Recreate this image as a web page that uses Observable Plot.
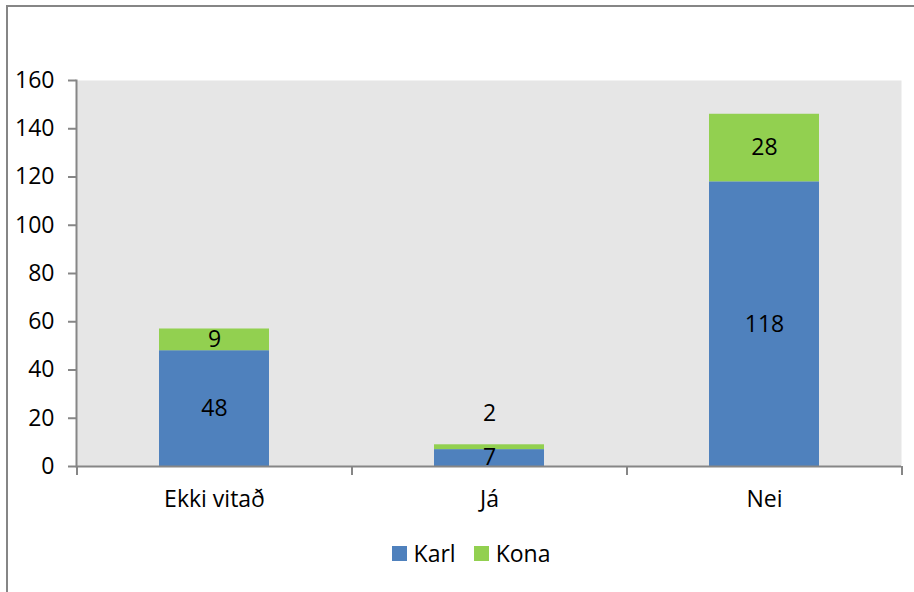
<!DOCTYPE html>
<html>
<head>
<meta charset="utf-8">
<script src="https://cdn.jsdelivr.net/npm/d3@7"></script>
<script src="https://cdn.jsdelivr.net/npm/@observablehq/plot@0.6"></script>
<style>
  html, body { margin: 0; padding: 0; background: #fff; }
  #wrap { position: relative; width: 914px; height: 592px; overflow: hidden; font-family: "Open Sans", sans-serif; }
  #border { position: absolute; left: 6px; top: 5px; width: 1000px; height: 1000px; border: 2px solid #868686; box-sizing: border-box; }
  #chart { position: absolute; left: 0; top: 0; }
  #legend { position: absolute; left: 0; width: 914px; top: 537px; display: flex; justify-content: center; align-items: center; font-size: 23px; color: #000; padding-left: 28px; box-sizing: border-box; }
  .item { display: flex; align-items: center; margin: 0 9px; }
  .sw { width: 15px; height: 15px; margin-right: 7px; }
</style>
</head>
<body>
<div id="wrap">
  <div id="border"></div>
  <div id="chart"></div>
  <div id="legend"></div>
</div>
<script>
const categories = ["Ekki vitað", "Já", "Nei"];
const series = ["Karl", "Kona"];
const karl = [48, 7, 118];
const kona = [9, 2, 28];
const yTicks = [0, 20, 40, 60, 80, 100, 120, 140, 160];
const colors = ["#4f81bd", "#92d050"];

const data = [];
series.forEach((s, si) => {
  const vals = si === 0 ? karl : kona;
  categories.forEach((c, ci) => data.push({category: c, series: s, value: vals[ci]}));
});

const W = 914, H = 592, mL = 76, mR = 13, mT = 80, mB = 126;
const step = (W - mL - mR) / categories.length;
const axisColor = "#868686";
const font = "Open Sans, sans-serif";
const fs = 23;

const big = data.filter(d => !(d.series === "Kona" && d.value < 5));
const small = data.filter(d => d.series === "Kona" && d.value < 5);

const chart = Plot.plot({
  width: W, height: H,
  marginLeft: mL, marginRight: mR, marginTop: mT, marginBottom: mB,
  style: {fontFamily: font, fontSize: fs + "px", color: "#000", background: "transparent"},
  x: {domain: categories, paddingInner: 0.6, paddingOuter: 0.3, label: null},
  y: {domain: [0, 160], ticks: yTicks, label: null},
  color: {domain: series, range: colors},
  marks: [
    Plot.frame({fill: "#e6e6e6", stroke: null}),
    Plot.barY(data, {x: "category", y: "value", fill: "series", order: null}),
    Plot.text(big, Plot.stackY({x: "category", y: "value", z: "series", text: "value", fill: "#000", fontSize: fs, order: null})),
    Plot.text(small, {x: "category", y: (d) => karl[categories.indexOf(d.category)] + d.value, text: "value", fill: "#000", fontSize: fs, dy: -31}),
    Plot.ruleY([0], {stroke: axisColor, strokeWidth: 2}),
    Plot.frame({anchor: "left", stroke: axisColor, strokeWidth: 2}),
    Plot.ruleX(categories, {x: d => d, y1: 0, y2: 0, dx: step / 2, insetBottom: -9, stroke: axisColor, strokeWidth: 2}),
    Plot.ruleX(categories.slice(0, 1), {x: d => d, y1: 0, y2: 0, dx: -step / 2, insetBottom: -9, stroke: axisColor, strokeWidth: 2}),
    Plot.axisY({ticks: yTicks, tickSize: 8, tickPadding: 14, stroke: axisColor, strokeWidth: 2, fill: "#000", fontSize: fs, label: null}),
    Plot.axisX({tickSize: 0, tickPadding: 24, fill: "#000", fontSize: fs, label: null})
  ]
});
document.getElementById("chart").appendChild(chart);

const legend = document.getElementById("legend");
series.forEach((s, i) => {
  const item = document.createElement("div");
  item.className = "item";
  const sw = document.createElement("div");
  sw.className = "sw";
  sw.style.background = colors[i];
  const t = document.createElement("span");
  t.textContent = s;
  item.appendChild(sw);
  item.appendChild(t);
  legend.appendChild(item);
});
</script>
</body>
</html>
